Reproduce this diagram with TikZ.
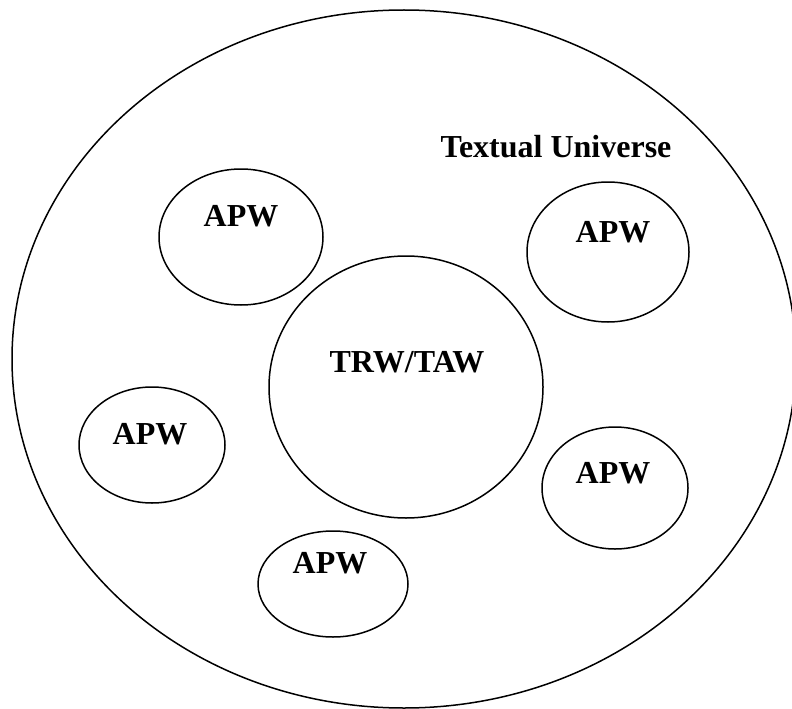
\documentclass[tikz,border=0pt]{standalone}
\usepackage{fontspec}
\setmainfont{Liberation Serif}
\usetikzlibrary{positioning}

\tikzset{
  world/.style={line width=1.5bp},
  worldlabel/.style={inner sep=0pt, font=\fontsize{32bp}{38bp}\selectfont\bfseries}
}

\begin{document}
\begin{tikzpicture}[x=1bp, y=-1bp]
\useasboundingbox (0,0) rectangle (792,709);
\clip (0,0) rectangle (792,709);
% textual universe
\draw[world] (404,359) ellipse [x radius=392, y radius=349];
\node[worldlabel] (universe) at (556,147) {Textual Universe};
% actual world in the middle
\draw[world] (406,387) ellipse [x radius=137, y radius=131];
\node[worldlabel] (trw) at (407,362) {TRW/TAW};
% alternative possible worlds
\foreach \i/\cx/\cy/\rx/\ry/\tx/\ty in {1/241/237/82/68/241/216,
    2/608/252/81/70/613/232, 3/152/445/73/58/150/434,
    4/615/488/73/61/613/473, 5/333/584/75/53/330/563} {
  \draw[world] (\cx,\cy) ellipse [x radius=\rx, y radius=\ry];
  \node[worldlabel] (apw\i) at (\tx,\ty) {APW};
}
\end{tikzpicture}
\end{document}
